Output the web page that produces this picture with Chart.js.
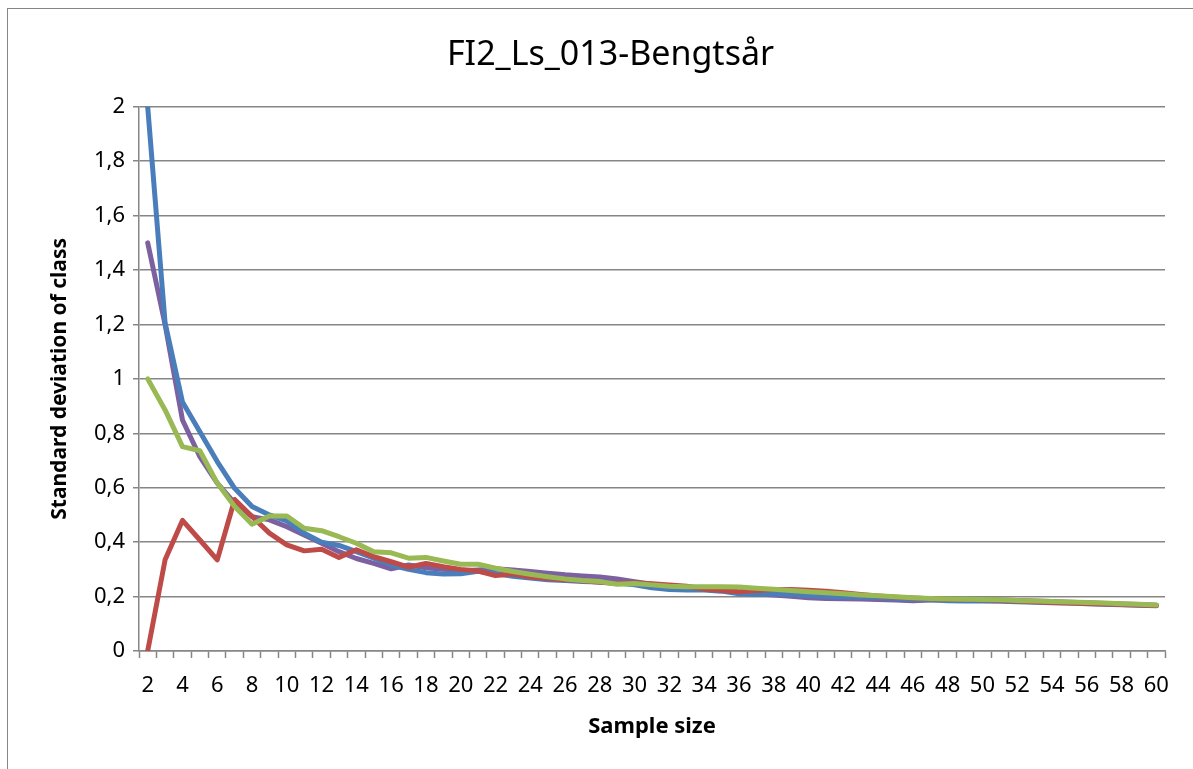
<!DOCTYPE html>
<html>
<head>
<meta charset="utf-8">
<title>FI2_Ls_013-Bengtsår</title>
<script src="https://cdn.jsdelivr.net/npm/chart.js@4.4.0/dist/chart.umd.min.js"></script>
<style>
    body { margin: 0; overflow: hidden; background: #fff; }
    #wrap { position: relative; width: 1193px; height: 769px; }
    #frame {
        position: absolute; left: 7px; top: 8px;
        width: 1300px; height: 900px;
        border: 1px solid #868686;
        pointer-events: none;
    }
    #sdChart { position: absolute; left: 0; top: 0; }
</style>
</head>
<body>
<div id="wrap">
    <canvas id="sdChart" width="1193" height="769"></canvas>
    <div id="frame"></div>
</div>
<script>
// sample sizes on the x axis
const sampleSizes = [
    2, 3, 4, 5, 6, 7, 8, 9, 10, 11, 12, 13, 14, 15, 16, 17, 18, 19, 20,
    21, 22, 23, 24, 25, 26, 27, 28, 29, 30, 31, 32, 33, 34, 35, 36, 37, 38, 39, 40,
    41, 42, 43, 44, 45, 46, 47, 48, 49, 50, 51, 52, 53, 54, 55, 56, 57, 58, 59, 60
];

// standard deviation per class, one list per line
const blueValues = [
    2.0, 1.206, 0.915, 0.806, 0.696, 0.598, 0.531, 0.500, 0.478, 0.433,
    0.400, 0.388, 0.365, 0.341, 0.316, 0.300, 0.288, 0.283, 0.284, 0.293,
    0.285, 0.275, 0.268, 0.262, 0.259, 0.255,
    0.254, 0.250, 0.243, 0.232, 0.226, 0.224, 0.224, 0.220, 0.210, 0.208,
    0.210, 0.208, 0.204, 0.200, 0.198, 0.198, 0.196, 0.193, 0.190, 0.188,
    0.185, 0.184, 0.184, 0.183, 0.181, 0.179, 0.177, 0.176, 0.174, 0.172,
    0.170, 0.168, 0.166
];
const redValues = [
    0, 0.335, 0.480, 0.408, 0.335, 0.557, 0.494, 0.433, 0.390, 0.368,
    0.374, 0.344, 0.372, 0.347, 0.328, 0.308, 0.322, 0.310, 0.300, 0.294,
    0.277, 0.283, 0.272, 0.266, 0.262, 0.258,
    0.253, 0.248, 0.250, 0.247, 0.243, 0.238, 0.228, 0.222, 0.218, 0.222,
    0.226, 0.226, 0.223, 0.220, 0.214, 0.208, 0.202, 0.198, 0.195, 0.192,
    0.190, 0.189, 0.188, 0.186, 0.184, 0.181, 0.178, 0.176, 0.175, 0.173,
    0.171, 0.169, 0.167
];
const greenValues = [
    1.0, 0.886, 0.751, 0.736, 0.617, 0.531, 0.466, 0.496, 0.496, 0.451,
    0.442, 0.420, 0.396, 0.365, 0.361, 0.341, 0.344, 0.331, 0.319, 0.319,
    0.304, 0.292, 0.282, 0.273, 0.265, 0.259,
    0.255, 0.245, 0.248, 0.243, 0.238, 0.236, 0.236, 0.236, 0.235, 0.231,
    0.227, 0.222, 0.218, 0.214, 0.210, 0.206, 0.203, 0.199, 0.196, 0.193,
    0.191, 0.190, 0.189, 0.188, 0.186, 0.184, 0.182, 0.180, 0.178, 0.176,
    0.174, 0.172, 0.169
];
const purpleValues = [
    1.5, 1.2, 0.849, 0.714, 0.617, 0.543, 0.494, 0.482, 0.457, 0.426,
    0.396, 0.365, 0.340, 0.322, 0.302, 0.316, 0.306, 0.300, 0.295, 0.298,
    0.302, 0.298, 0.292, 0.286, 0.280, 0.276,
    0.272, 0.265, 0.255, 0.245, 0.235, 0.230, 0.227, 0.222, 0.215, 0.210,
    0.206, 0.201, 0.196, 0.193, 0.192, 0.191, 0.189, 0.187, 0.185, 0.187,
    0.188, 0.188, 0.188, 0.187, 0.186, 0.184, 0.182, 0.179, 0.177, 0.175,
    0.173, 0.171, 0.168
];

const axisGrey = '#868686';
const fontFamily = '"Noto Sans", "Open Sans", sans-serif';

// common look of the four lines
function lineSet (values, color) {
    return {
        data: values,
        borderColor: color,
        backgroundColor: color,
        borderWidth: 5,
        pointRadius: 0,
        tension: 0,
        borderJoinStyle: 'round',
        borderCapStyle: 'round'
    };
}

// the title sits a bit right of the canvas middle, over the whole frame
const titleShift = {
    id: 'titleShift',
    afterLayout (chart) {
        if (chart.titleBlock) {
            chart.titleBlock.left = 28;
            chart.titleBlock.right = 1193;
        }
    }
};

const data = {
    labels: sampleSizes,
    // first dataset is painted on top
    datasets: [
        lineSet(greenValues, '#98B954'),
        lineSet(redValues, '#BE4B48'),
        lineSet(blueValues, '#4A7EBB'),
        lineSet(purpleValues, '#7D60A0')
    ]
};

const config = {
    type: 'line',
    data: data,
    plugins: [titleShift],
    options: {
        responsive: false,
        animation: false,
        devicePixelRatio: 1,
        layout: {
            padding: { left: 0, right: 28, top: 0, bottom: 0 }
        },
        plugins: {
            legend: { display: false },
            tooltip: { enabled: false },
            title: {
                display: true,
                text: 'FI2_Ls_013-Bengtsår',
                color: '#000',
                font: { family: fontFamily, size: 34, weight: 'normal' },
                padding: { top: 35, bottom: 31 }
            }
        },
        scales: {
            x: {
                offset: true,
                grid: {
                    offset: true,
                    drawOnChartArea: false,
                    drawTicks: true,
                    tickLength: 7,
                    tickWidth: 1.5,
                    color: axisGrey
                },
                border: { color: axisGrey, width: 1.5 },
                ticks: {
                    autoSkip: false,
                    maxRotation: 0,
                    padding: 15,
                    color: '#000',
                    font: { family: fontFamily, size: 22 },
                    // label every second sample size
                    callback: function (value, index) {
                        return index % 2 === 0 ? this.getLabelForValue(value) : '';
                    }
                },
                title: {
                    display: true,
                    text: 'Sample size',
                    color: '#000',
                    font: { family: fontFamily, size: 22, weight: 'bold' },
                    padding: { top: 29, bottom: 29 }
                },
                afterFit: function (scale) {
                    scale.height = 118;
                }
            },
            y: {
                min: 0,
                max: 2,
                grid: {
                    color: axisGrey,
                    lineWidth: 1.5,
                    tickLength: 6
                },
                border: { color: axisGrey, width: 1.5 },
                ticks: {
                    stepSize: 0.2,
                    padding: 8,
                    color: '#000',
                    font: { family: fontFamily, size: 22 },
                    // decimal comma
                    callback: function (value) {
                        return (Math.round(value * 10) / 10).toString().replace('.', ',');
                    }
                },
                title: {
                    display: true,
                    text: 'Standard deviation of class',
                    color: '#000',
                    font: { family: fontFamily, size: 21, weight: 'bold' },
                    padding: { top: 47, bottom: 0 }
                },
                afterFit: function (scale) {
                    scale.width = 139;
                }
            }
        }
    }
};

const sdChart = new Chart(
    document.getElementById('sdChart'),
    config
);
</script>
</body>
</html>
